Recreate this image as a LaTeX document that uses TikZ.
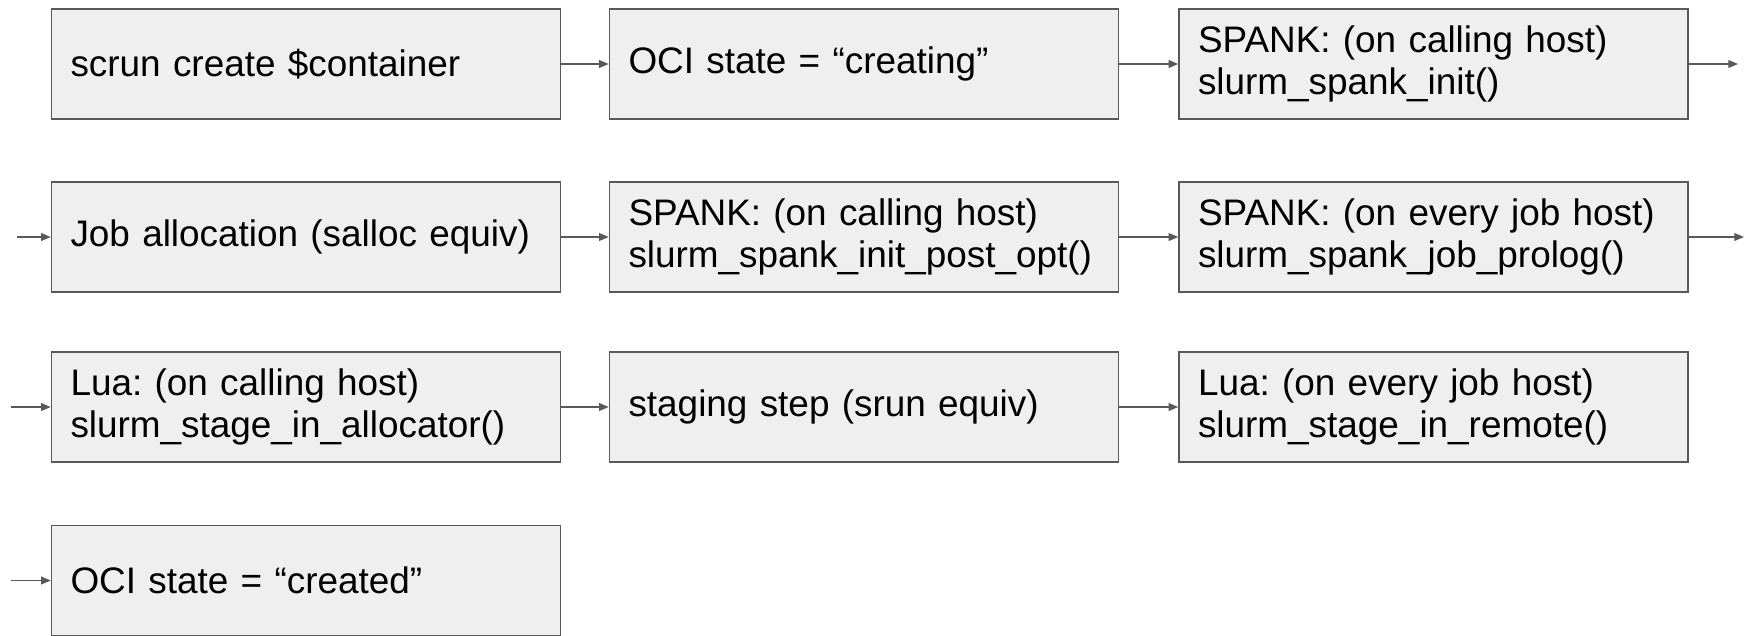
\documentclass[tikz,border=0pt]{standalone}
\usepackage{fontspec}
\setmainfont{Liberation Sans}
\usetikzlibrary{arrows.meta}
\frenchspacing

\definecolor{boxfill}{HTML}{EFEFEF}
\definecolor{boxline}{HTML}{595959}

\begin{document}
\begin{tikzpicture}
            [->, >={Triangle[length=5.5pt,width=4.4pt]}, line width=0.8pt,
             every edge/.append style={draw=boxline},
             stage/.style={shape=rectangle, draw=boxline, fill=boxfill, align=left,
                           text width=9.42cm, inner xsep=0.38cm, inner ysep=0pt,
                           minimum height=2.2cm, font=\fontsize{21pt}{24pt}\selectfont}]
            \useasboundingbox (0,0) rectangle (34.94,-12.70);

            \node[stage] (create) at (6.12, -1.28) {scrun create \$container};
            \node[stage] (creating) at (17.28, -1.28) {OCI state = “creating”};
            \node[stage] (spankinit) at (28.67, -1.28) {SPANK: (on calling host)\\slurm\_spank\_init()};
            \coordinate (out1) at (34.76, -1.28);

            \coordinate (in2) at (0.34, -4.74);
            \node[stage] (alloc) at (6.12, -4.74) {Job allocation (salloc equiv)};
            \node[stage] (postopt) at (17.28, -4.74) {SPANK: (on calling host)\\slurm\_spank\_init\_post\_opt()};
            \node[stage] (prolog) at (28.67, -4.74) {SPANK: (on every job host)\\slurm\_spank\_job\_prolog()};
            \coordinate (out2) at (34.88, -4.74);

            \coordinate (in3) at (0.22, -8.14);
            \node[stage] (stagealloc) at (6.12, -8.14) {Lua: (on calling host)\\slurm\_stage\_in\_allocator()};
            \node[stage] (stagestep) at (17.28, -8.14) {staging step (srun equiv)};
            \node[stage] (stageremote) at (28.67, -8.14) {Lua: (on every job host)\\slurm\_stage\_in\_remote()};

            \coordinate (in4) at (0.22, -11.61);
            \node[stage] (created) at (6.12, -11.61) {OCI state = “created”};

            \path [->] (create) edge (creating);
            \path [->] (creating) edge (spankinit);
            \path [->] (spankinit) edge (out1);
            \path [->] (in2) edge (alloc);
            \path [->] (alloc) edge (postopt);
            \path [->] (postopt) edge (prolog);
            \path [->] (prolog) edge (out2);
            \path [->] (in3) edge (stagealloc);
            \path [->] (stagealloc) edge (stagestep);
            \path [->] (stagestep) edge (stageremote);
            \path [->] (in4) edge (created);
        \end{tikzpicture}
\end{document}
